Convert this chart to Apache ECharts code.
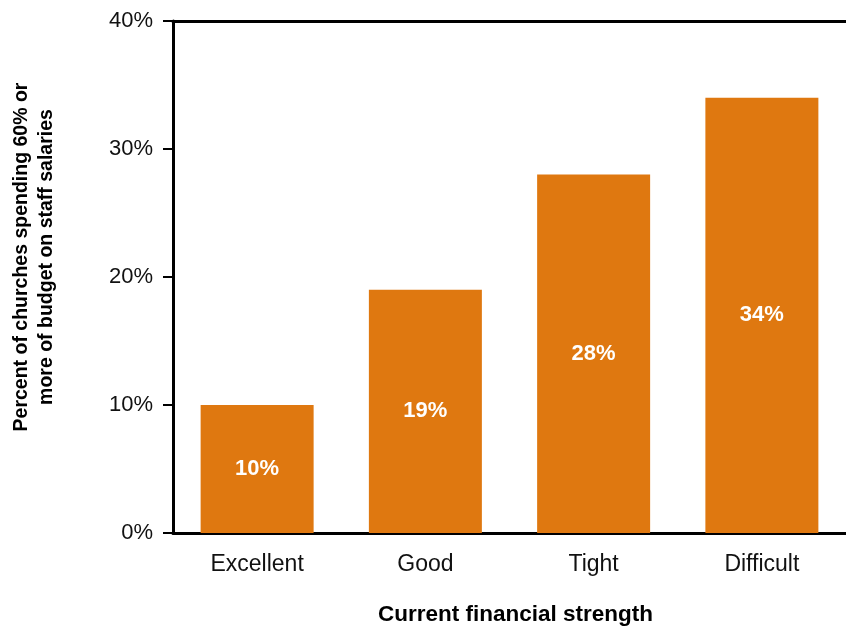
<!DOCTYPE html>
<html><head><meta charset="utf-8">
<script src="https://cdn.jsdelivr.net/npm/echarts@6/dist/echarts.min.js"></script>
<style>html,body{margin:0;padding:0;background:#fff}#c{width:846px;height:631px}</style>
</head><body><div id="c"></div>
<script>
const categories = ["Excellent", "Good", "Tight", "Difficult"];
const values = [10, 19, 28, 34];
const yTicks = [0, 10, 20, 30, 40];
const xTitle = "Current financial strength";
const yTitle = "Percent of churches spending 60% or\nmore of budget on staff salaries";

const FONT = "Liberation Sans, Arial, sans-serif";
const chart = echarts.init(document.getElementById('c'), null, {renderer: 'canvas'});
chart.setOption({
  animation: false,
  grid: {left: 173, top: 21, width: 677, height: 517},
  graphic: [{
    type: 'text', x: 34, y: 257, rotation: Math.PI / 2,
    style: {text: yTitle, fontSize: 19.5, fontWeight: 'bold', fill: '#000', fontFamily: FONT,
      lineHeight: 25, align: 'center', verticalAlign: 'middle'}
  }],
  xAxis: [{
    type: 'category', data: categories, position: 'bottom',
    axisLine: {lineStyle: {color: '#000', width: 3}},
    axisTick: {alignWithLabel: true, length: 10, lineStyle: {color: '#000', width: 2}},
    axisLabel: {color: '#111', fontSize: 23, fontFamily: FONT, margin: 20},
    name: xTitle, nameLocation: 'middle', nameGap: 70,
    nameTextStyle: {fontSize: 22.5, fontWeight: 'bold', color: '#000', fontFamily: FONT, padding: [0, 0, 0, 12]}
  }, {
    type: 'category', data: categories, position: 'top',
    axisLine: {show: true, lineStyle: {color: '#000', width: 3}},
    axisTick: {show: false}, axisLabel: {show: false}
  }],
  yAxis: {
    type: 'value', min: 0, max: 40, interval: 10,
    axisLine: {show: true, lineStyle: {color: '#000', width: 3}},
    axisTick: {show: true, length: 10, lineStyle: {color: '#000', width: 2}},
    splitLine: {show: false},
    axisLabel: {color: '#111', fontSize: 22, fontFamily: FONT, margin: 20,
      formatter: v => yTicks.includes(v) ? v + '%' : ''}
  },
  series: [{
    type: 'bar', data: values, barWidth: 113,
    itemStyle: {color: '#DF7810'},
    label: {show: true, position: 'inside', formatter: p => p.value + '%',
      color: '#fff', fontSize: 22, fontWeight: 'bold', fontFamily: FONT}
  }]
});
</script></body></html>
